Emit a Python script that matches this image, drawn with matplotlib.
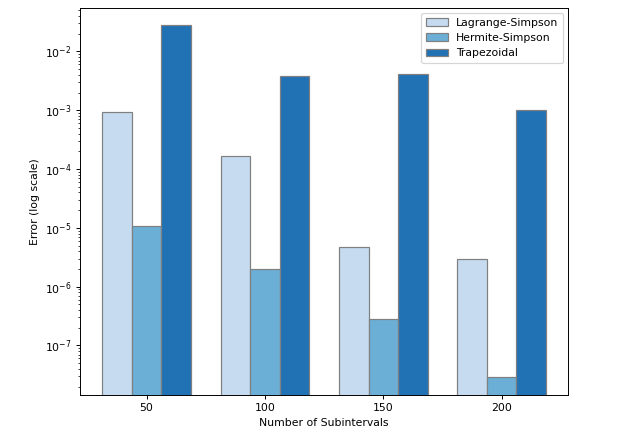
import numpy as np
import matplotlib.pyplot as plt

# data
n_sub = ['50', '100', '150', '200']
err_lagrange = [9.2e-4, 1.64e-4, 4.8e-6, 3.0e-6]
err_hermite = [1.06e-5, 1.96e-6, 2.77e-7, 2.86e-8]
err_trap = [2.77e-2, 3.76e-3, 4.2e-3, 9.9e-4]

colors = ['#c6dbef', '#6baed6', '#2171b5']
w = 0.25
x = np.arange(len(n_sub))

dpi = 87
fig = plt.figure(figsize=(630 / dpi, 435 / dpi), dpi=dpi)
ax = fig.add_axes([0.127, 0.092, 0.775, 0.89])

ax.bar(x - w, err_lagrange, w, color=colors[0], edgecolor='grey', label='Lagrange-Simpson')
ax.bar(x, err_hermite, w, color=colors[1], edgecolor='grey', label='Hermite-Simpson')
ax.bar(x + w, err_trap, w, color=colors[2], edgecolor='grey', label='Trapezoidal')

ax.set_yscale('log')
ax.set_xticks(x)
ax.set_xticklabels(n_sub)
ax.set_xlabel('Number of Subintervals', fontsize=9)
ax.set_ylabel('Error (log scale)', fontsize=9)
ax.tick_params(labelsize=9)
ax.legend(fontsize=9)

fig.savefig('out.png', dpi=dpi)
